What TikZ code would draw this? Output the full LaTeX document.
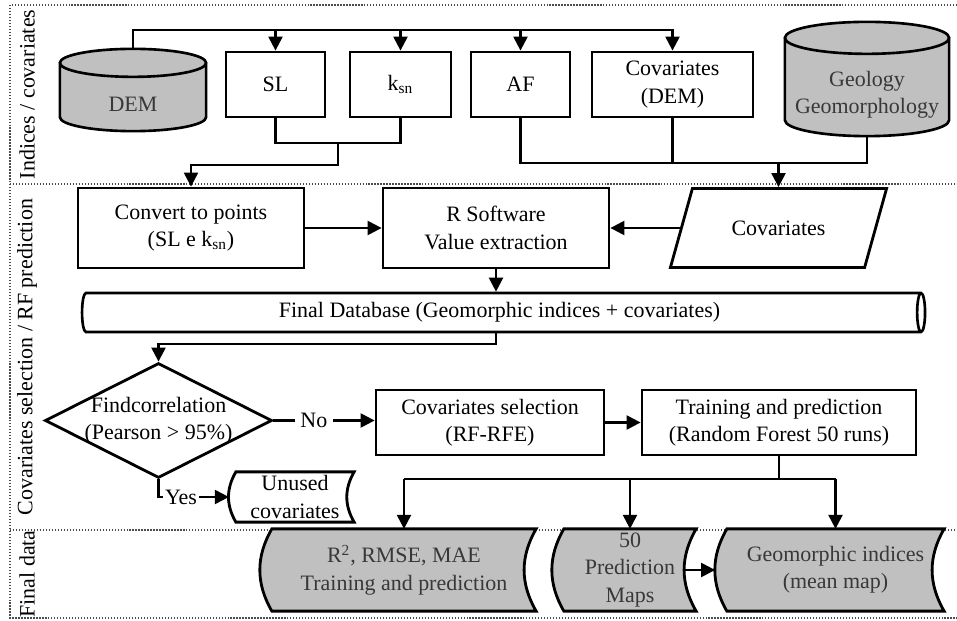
\documentclass[tikz,border=0pt]{standalone}
\usepackage{fontspec}
\setmainfont{Liberation Serif}
\usetikzlibrary{arrows.meta, calc, shapes.geometric, backgrounds}

\definecolor{datagray}{HTML}{C0C0C0}
\definecolor{datatext}{HTML}{383838}

\tikzset{
  box/.style={draw, line width=1.6pt, align=center, fill=white, inner sep=2pt},
  drum/.style={align=center, inner sep=0pt, text=datatext},
  stored/.style={align=center, inner sep=0pt, text=datatext},
  lane/.style={rotate=90},
  divider/.style={densely dotted, line width=0.7pt, black!70},
}

% outline of a stored-data symbol round a node
\newcommand{\storedshape}[2]{%
  \draw[line width=1.6pt, fill=#2] (#1.north west) -- (#1.north east)
    to[out=-120, in=120] (#1.south east) -- (#1.south west)
    to[out=120, in=-120] (#1.north west) -- cycle;
}
% upright drum (node = visible body below the lid), #2 = lid half height
\newcommand{\drumshape}[2]{%
  \draw[line width=1.5pt, fill=datagray]
    let \p1=(#1.north west), \p2=(#1.south east), \n1={(\x2-\x1)/2} in
    (\x1,\y1+#2) -- (\x1,\y2+#2) arc[start angle=180, end angle=360, x radius=\n1, y radius=#2]
    -- (\x2,\y1+#2) arc[start angle=0, end angle=180, x radius=\n1, y radius=#2] -- cycle
    (\x1+\n1,\y1+#2) ellipse[x radius=\n1, y radius=#2];
}

\begin{document}
\begin{tikzpicture}[>={Triangle[length=8pt,width=8pt]}, line width=1.3pt,
    every node/.style={font=\fontsize{12.5}{15.5}\selectfont}]
  \useasboundingbox (0,0) rectangle (19.14,-12.42);

  % lanes
  \node[lane] (lane1) at (0.54,-1.89) {Indices / covariates};
  \node[lane] (lane2) at (0.54,-7.14) {Covariates selection / RF prediction};
  \node[lane] (lane3) at (0.54,-11.48) {Final data};

  % indices / covariates
  \node[drum, minimum width=2.88cm, minimum height=1.04cm] (dem) at (2.66,-2.08) {DEM};
  \node[box, minimum width=1.98cm, minimum height=1.3cm] (sl) at (5.51,-1.69) {SL};
  \node[box, minimum width=2.02cm, minimum height=1.3cm] (ksn) at (8.01,-1.69) {k\textsubscript{sn}};
  \node[box, minimum width=1.98cm, minimum height=1.3cm] (af) at (10.41,-1.69) {AF};
  \node[box, minimum width=3.22cm, minimum height=1.3cm] (covdem) at (13.45,-1.69) {Covariates\\(DEM)};
  \node[drum, minimum width=3.24cm, minimum height=1.6cm] (geo) at (17.34,-1.9) {Geology\\Geomorphology};

  % covariates selection / RF prediction
  \node[box, minimum width=4.52cm, minimum height=1.6cm] (conv) at (3.82,-4.56) {Convert to points\\(SL e k\textsubscript{sn})};
  \node[box, minimum width=4.52cm, minimum height=1.6cm] (rsoft) at (9.92,-4.56) {R Software\\Value extraction};
  \node[trapezium, trapezium left angle=63, trapezium right angle=117, trapezium stretches=true, draw,
    line width=1.6pt, minimum width=4.34cm, minimum height=1.58cm] (covin) at (15.57,-4.56) {Covariates};
  \node[cylinder, draw, line width=1.5pt, aspect=0.25, minimum width=0.78cm, minimum height=16.86cm]
    (db) at (9.99,-6.25) {Final Database (Geomorphic indices + covariates)};
  \node[diamond, draw, line width=1.6pt, aspect=2, minimum width=4.54cm, minimum height=2.3cm,
    inner sep=-3pt, align=center] (dia) at (3.17,-8.41) {Findcorrelation\\(Pearson > 95\%)};
  \node[box, minimum width=4.56cm, minimum height=1.3cm] (covsel) at (9.8,-8.45) {Covariates selection\\(RF-RFE)};
  \node[box, minimum width=5.48cm, minimum height=1.3cm] (train) at (15.58,-8.45) {Training and prediction\\(Random Forest 50 runs)};
  \node[stored, text=black, minimum width=2.32cm, minimum height=0.96cm] (unused) at (5.9,-9.94) {Unused\\covariates};

  % final data
  \node[stored, minimum width=5.24cm, minimum height=1.6cm] (fit) at (8.08,-11.4) {R\textsuperscript{2}, RMSE, MAE\\Training and prediction};
  \node[stored, minimum width=2.6cm, minimum height=1.6cm] (maps) at (12.6,-11.4) {50\\Prediction\\Maps};
  \node[stored, minimum width=4.3cm, minimum height=1.6cm] (mean) at (16.71,-11.4) {Geomorphic indices\\(mean map)};

  \begin{scope}[on background layer]
    \draw[divider] (19.14,-0.1) -- (0.2,-0.1) -- (0.2,-12.36) -- (19.14,-12.36);
    \draw[divider] (0.2,-3.68) -- (19.14,-3.68);
    \draw[divider] (0.2,-10.6) -- (19.14,-10.6);
    \drumshape{dem}{0.28cm}
    \drumshape{geo}{0.32cm}
    \storedshape{unused}{white}
    \storedshape{fit}{datagray}
    \storedshape{maps}{datagray}
    \storedshape{mean}{datagray}
  \end{scope}

  % connectors
  \coordinate (topbus) at (0,-0.6);
  \coordinate (demtop) at ($(dem.north)+(0,0.56)$);
  \draw[->] (demtop) |- (covdem.north |- topbus) -- (covdem.north);
  \foreach \n in {sl,ksn,af}
    \draw[->] (\n.north |- topbus) -- (\n.north);

  \coordinate (slbus) at (0,-2.86);
  \draw (sl.south) |- (ksn.south |- slbus) -- (ksn.south);
  \draw[->] ($(sl.south |- slbus)!0.5!(ksn.south |- slbus)$) -- ++(0,-0.44) -| (conv.north);

  \coordinate (afbus) at (0,-3.26);
  \draw (af.south) |- (geo.south |- afbus) -- (geo.south);
  \draw (covdem.south) -- (covdem.south |- afbus);
  \draw[->] (covin.north |- afbus) -- (covin.north);

  \draw[->] (conv) -- (rsoft);
  \draw[->] (covin.left side) -- (rsoft.east);
  \draw[->] (rsoft) -- (rsoft |- db.north);

  \coordinate (dbbus) at (0,-6.88);
  \draw[->] (rsoft |- db.south) |- (dia.north |- dbbus) -- (dia.north);
  \draw[->] (dia.east) -- node[pos=0.4, fill=white, inner sep=3pt] {No} (dia.east -| covsel.west);
  \draw[->] (covsel) -- (train);
  \draw[->] (dia.south) |- node[pos=0.66, fill=white, inner sep=1pt] {Yes} ($(unused.west)+(-0.14,0)$);

  \coordinate (trainbus) at (0,-9.58);
  \draw (train.south) -- (train.south |- trainbus);
  \draw (fit.north |- trainbus) -- (mean.north |- trainbus);
  \foreach \n in {fit,maps,mean}
    \draw[->] (\n.north |- trainbus) -- (\n.north);
  \draw[->] ($(maps.east)+(-0.235,0)$) -- ($(mean.west)+(-0.235,0)$);
\end{tikzpicture}
\end{document}
